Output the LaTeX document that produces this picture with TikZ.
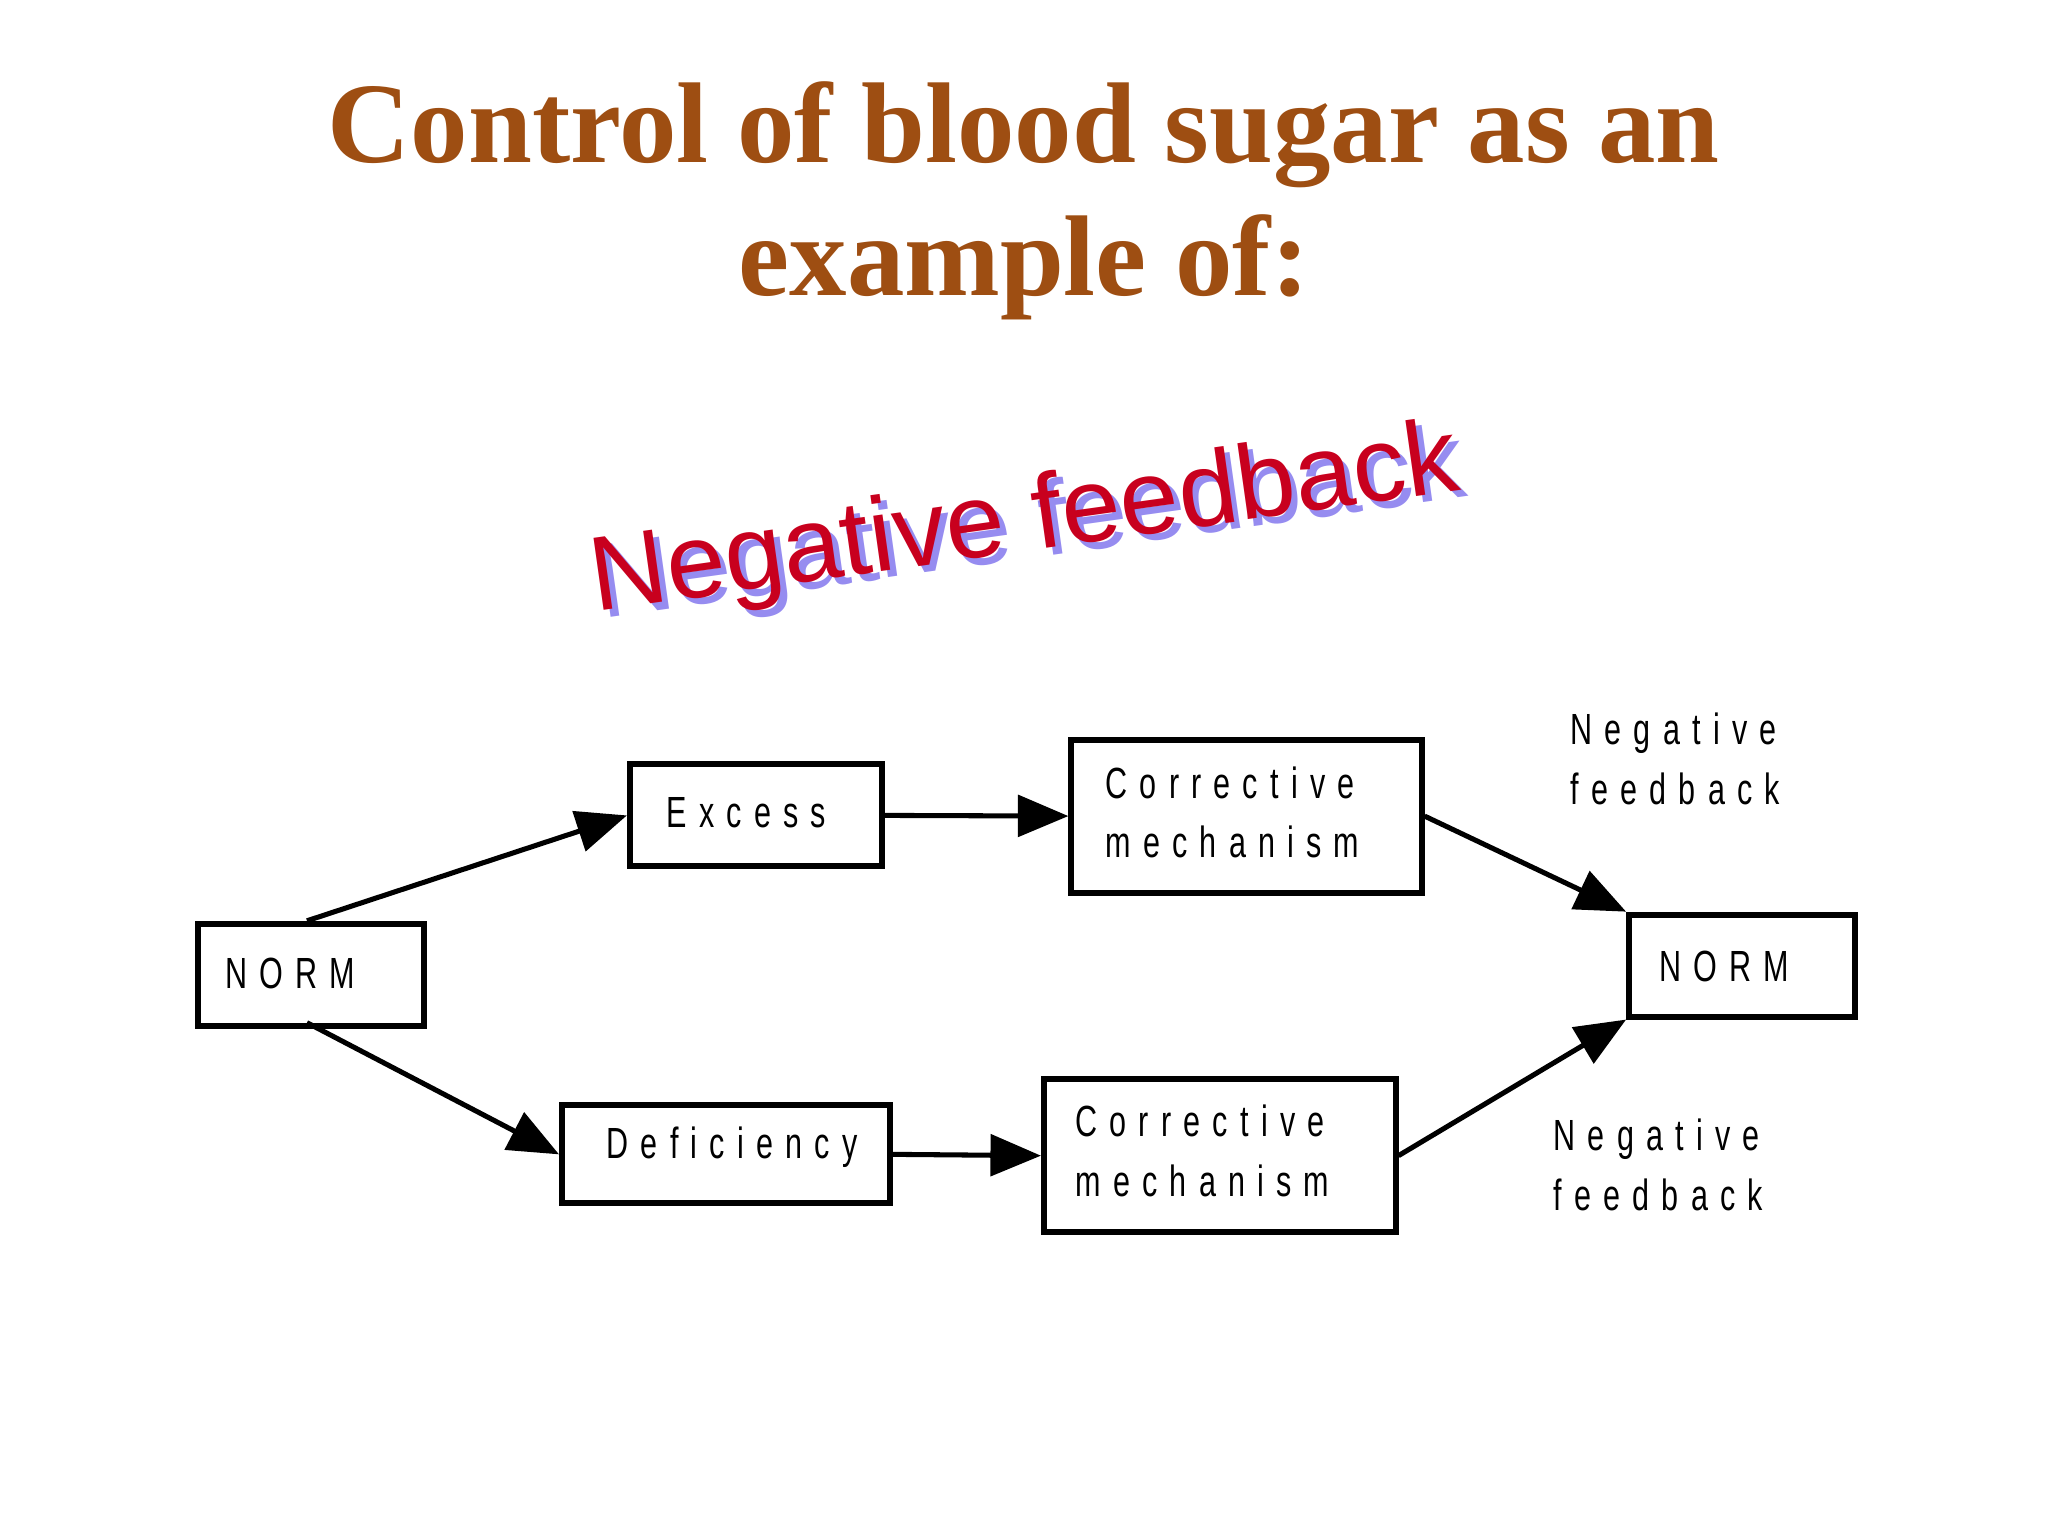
\documentclass[tikz,border=0pt]{standalone}
\usepackage{fontspec}
\setmainfont{Liberation Serif}
\newfontfamily\boxfont[LetterSpace=28,FakeStretch=0.7]{Liberation Sans}
\newfontfamily\comicfont{Liberation Sans}
\usetikzlibrary{arrows.meta}
\definecolor{titlebrown}{RGB}{158,78,18}
\definecolor{negred}{RGB}{200,0,30}
\definecolor{negblue}{RGB}{150,140,240}
\begin{document}
\begin{tikzpicture}[x=0.01cm,y=-0.01cm,
  box/.style={draw,line width=1.3pt,anchor=north west,inner sep=0pt},
  lbl/.style={font=\boxfont\fontsize{9.5pt}{13pt}\selectfont,align=left},
  arr/.style={line width=1.1pt,-{Triangle[length=11pt,width=9pt]}}]
\useasboundingbox (0,0) rectangle (1568,1176);
\node[font=\bfseries\fontsize{25pt}{29pt}\selectfont,text=titlebrown,align=center] (title) at (784,154) {Control of blood sugar as an\\example of:};
\node[rotate=8,font=\comicfont\fontsize{23pt}{26pt}\selectfont,text=negblue] (shadow) at (790,406) {Negative feedback};
\node[rotate=8,font=\comicfont\fontsize{23pt}{26pt}\selectfont,text=negred] (neg) at (785,401) {Negative feedback};
\node[box,minimum width=1.73cm,minimum height=0.78cm] (n1) at (149,705) {};
\node[lbl,anchor=west] (n1t) at (160,745) {NORM};
\node[box,minimum width=1.93cm,minimum height=0.78cm] (ex) at (480,583) {};
\node[lbl,anchor=west] (ext) at (498,622) {Excess};
\node[box,minimum width=2.68cm,minimum height=1.17cm] (c1) at (818,564) {};
\node[lbl,anchor=west] (c1t) at (834,622) {Corrective\\mechanism};
\node[box,minimum width=1.73cm,minimum height=0.78cm] (n2) at (1245,698) {};
\node[lbl,anchor=west] (n2t) at (1258,740) {NORM};
\node[box,minimum width=2.51cm,minimum height=0.75cm] (de) at (428,844) {};
\node[lbl,anchor=west] (det) at (452,878) {Deficiency};
\node[box,minimum width=2.69cm,minimum height=1.17cm] (c2) at (797,824) {};
\node[lbl,anchor=west] (c2t) at (811,881) {Corrective\\mechanism};
\node[lbl,anchor=west] (f1) at (1190,581) {Negative\\feedback};
\node[lbl,anchor=west] (f2) at (1177,892) {Negative\\feedback};
\coordinate (n1top) at (235,705);
\coordinate (n1bot) at (235,783);
\draw[arr] (n1top) -- (ex.west);
\draw[arr] (ex.east) -- (c1.west);
\draw[arr] (c1.east) -- (n2.north west);
\draw[arr] (n1bot) -- (de.west);
\draw[arr] (de.east) -- (c2.west);
\draw[arr] (c2.east) -- (n2.south west);
\end{tikzpicture}
\end{document}
